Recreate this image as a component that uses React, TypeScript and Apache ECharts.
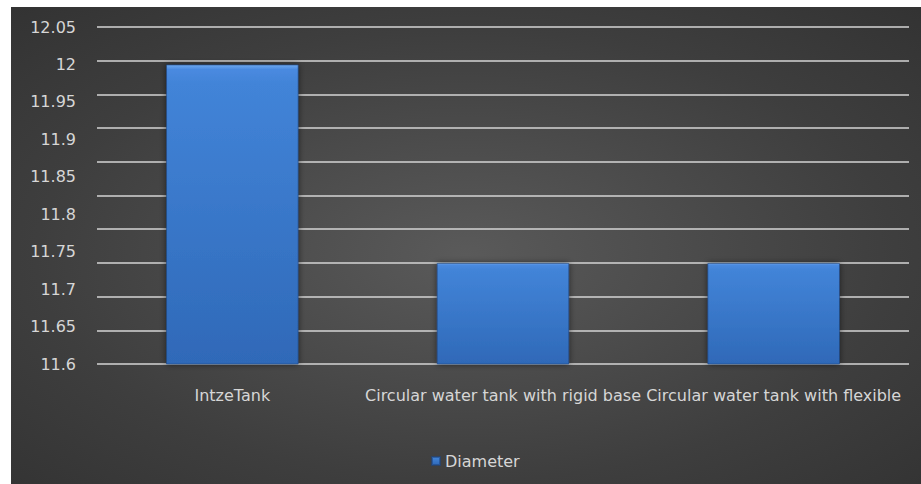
import React, { useEffect, useRef } from "react";
import * as echarts from "echarts";

// Tank types and their diameters
const categories = [
  "IntzeTank",
  "Circular water tank with rigid base",
  "Circular water tank with flexible",
];
const diameter = [12, 11.735, 11.735];
const seriesName = "Diameter";

const yMin = 11.6;
const yMax = 12.05;
const yStep = 0.05;
const gridBands = 10;

const FONT = "DejaVu Sans";
const TEXT = "#d6d6d6";

export default function App() {
  const ref = useRef<HTMLDivElement>(null);

  useEffect(() => {
    if (!ref.current) return;
    const chart = echarts.init(ref.current, undefined, { renderer: "svg" });

    const barFill = new echarts.graphic.LinearGradient(0, 0, 0, 1, [
      { offset: 0, color: "#6ea9ef" },
      { offset: 0.015, color: "#4a8ae0" },
      { offset: 0.06, color: "#4284d8" },
      { offset: 1, color: "#2f69b8" },
    ]);

    chart.setOption({
      animation: false,
      backgroundColor: new echarts.graphic.RadialGradient(0.5, 0.52, 1.05, [
        { offset: 0, color: "#5a5a5a" },
        { offset: 0.45, color: "#3e3e3e" },
        { offset: 0.85, color: "#2b2b2b" },
        { offset: 1, color: "#272727" },
      ]),
      textStyle: { fontFamily: FONT },
      grid: { left: 86, right: 12, top: 20, bottom: 120 },
      legend: {
        data: [seriesName],
        left: 420,
        top: 446,
        padding: 0,
        icon: "rect",
        itemWidth: 8,
        itemHeight: 8,
        textStyle: { color: TEXT, fontSize: 16, fontFamily: FONT },
      },
      xAxis: {
        type: "category",
        data: categories,
        axisLine: { show: false },
        axisTick: { show: false },
        axisLabel: {
          interval: 0,
          margin: 23,
          color: TEXT,
          fontSize: 16,
          fontFamily: FONT,
        },
      },
      yAxis: [
        {
          type: "value",
          min: yMin,
          max: yMax,
          interval: yStep,
          axisLine: { show: false },
          axisTick: { show: false },
          splitLine: { show: false },
          axisLabel: {
            margin: 21,
            color: TEXT,
            fontSize: 16,
            fontFamily: FONT,
            padding: [6, 0, 0, 0],
            formatter: (v: number) => String(Number(v.toFixed(2))),
          },
        },
        {
          type: "value",
          position: "left",
          min: 0,
          max: gridBands,
          interval: 1,
          axisLine: { show: false },
          axisTick: { show: false },
          axisLabel: { show: false },
          splitLine: { show: true, lineStyle: { color: "#d4d4d4", width: 1.6 } },
        },
      ],
      series: [
        {
          name: seriesName,
          type: "bar",
          yAxisIndex: 0,
          data: diameter,
          barWidth: "49%",
          itemStyle: {
            color: barFill,
            borderColor: "rgba(30,70,130,0.6)",
            borderWidth: 1,
            shadowBlur: 6,
            shadowColor: "rgba(0,0,0,0.55)",
          },
        },
      ],
    });

    return () => chart.dispose();
  }, []);

  return (
    <div
      ref={ref}
      style={{ position: "absolute", left: 11, top: 7, width: 910, height: 477 }}
    />
  );
}
